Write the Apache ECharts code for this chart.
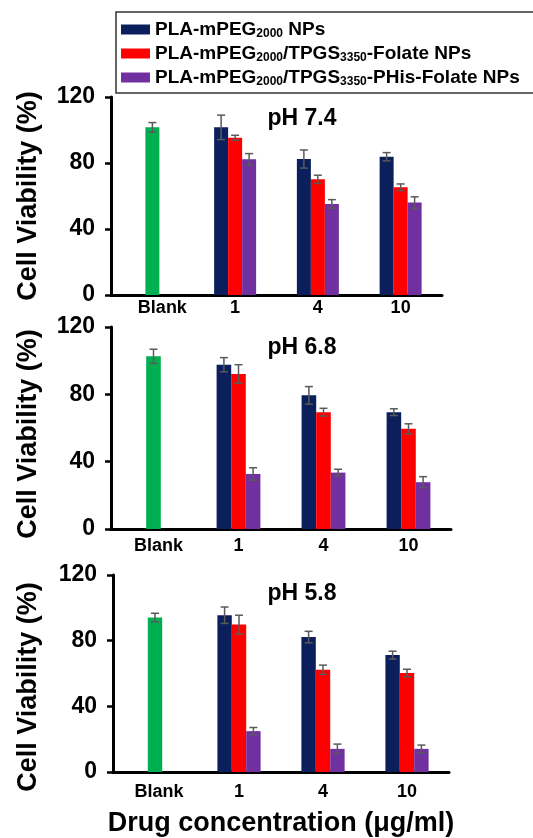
<!DOCTYPE html>
<html>
<head>
<meta charset="utf-8">
<script src="https://cdn.jsdelivr.net/npm/echarts@6/dist/echarts.min.js"></script>
<style>
  html, body { margin: 0; padding: 0; background: #ffffff; }
  #main { width: 533px; height: 838px; }
</style>
</head>
<body>
<div id="main"></div>
<script>
// categories and names
const categories = ["Blank", "1", "4", "10"];
const panelTitles = ["pH 7.4", "pH 6.8", "pH 5.8"];
const seriesNames = [
  "PLA-mPEG2000 NPs",
  "PLA-mPEG2000/TPGS3350-Folate NPs",
  "PLA-mPEG2000/TPGS3350-PHis-Folate NPs"
];
const legendLabels = [
  "PLA-mPEG{sub|2000} NPs",
  "PLA-mPEG{sub|2000}/TPGS{sub|3350}-Folate NPs",
  "PLA-mPEG{sub|2000}/TPGS{sub|3350}-PHis-Folate NPs"
];

// values per panel (pH 7.4, 6.8, 5.8); groups are 1, 4, 10 µg/ml
const blankMean = [101.6, 102.6, 94.1];
const blankErr = [2.9, 4.2, 2.6];
const plaMean = [[101.6, 82.4, 83.8], [97.6, 79.4, 69.4], [95.5, 82.2, 71.2]];
const plaErr = [[7.4, 5.5, 2.5], [4.2, 5.2, 2.0], [5.0, 3.5, 2.4]];
const folateMean = [[95.3, 70.1, 65.3], [92.1, 69.4, 59.5], [89.8, 62.3, 60.3]];
const folateErr = [[1.5, 2.5, 2.0], [5.5, 2.3, 3.0], [5.7, 2.8, 2.3]];
const phisMean = [[82.2, 55.2, 56.0], [32.7, 33.5, 27.8], [24.9, 14.1, 14.1]];
const phisErr = [[3.5, 2.6, 3.5], [3.7, 2.0, 3.3], [2.2, 2.9, 2.3]];

const colors = ["#0b1f5c", "#ff0000", "#7030a0"];
const blankColor = "#00b050";
const font = "Liberation Sans";

// layout
const grids = [
  { left: 111, top: 97, width: 331, height: 198 },
  { left: 111, top: 327, width: 340, height: 202 },
  { left: 113, top: 575, width: 336, height: 201 }
];
const barWidths = [14, 14.6, 14.4];
const titleTops = [102, 331, 577];
const labelMargins = [4, 8, 11];
const blankShift = [10, 5, 4];
const nameShift = [0, 12, 27];

let chart = echarts.init(document.getElementById("main"));

function errRender(offset, barW) {
  return function (params, api) {
    let x = api.value(0);
    let m = api.value(1);
    let e = api.value(2);
    let top = api.coord([x, m + e]);
    let bot = api.coord([x, m - e]);
    let cx = top[0] + offset * barW;
    let st = { stroke: "#5a5a5a", lineWidth: 1.5 };
    return {
      type: "group",
      children: [
        { type: "line", shape: { x1: cx, y1: top[1], x2: cx, y2: bot[1] }, style: st },
        { type: "line", shape: { x1: cx - 4, y1: top[1], x2: cx + 4, y2: top[1] }, style: st },
        { type: "line", shape: { x1: cx - 4, y1: bot[1], x2: cx + 4, y2: bot[1] }, style: st }
      ]
    };
  };
}

let xAxis = [];
let yAxis = [];
let series = [];

grids.forEach(function (g, p) {
  let barW = barWidths[p];
  xAxis.push({
    type: "category",
    gridIndex: p,
    data: categories,
    axisLine: { lineStyle: { color: "#000", width: 3 } },
    axisTick: { show: false },
    axisLabel: {
      interval: 0,
      hideOverlap: false,
      color: "#000",
      fontFamily: font,
      fontWeight: "bold",
      fontSize: 18,
      margin: labelMargins[p],
      formatter: function (v) {
        return v === "Blank" ? "{sh|Blank}" : v;
      },
      rich: {
        sh: {
          color: "#000",
          fontFamily: font,
          fontWeight: "bold",
          fontSize: 18,
          padding: [0, 0, 0, 2 * blankShift[p]]
        }
      }
    },
    name: p === 2 ? "Drug concentration (μg/ml)" : "",
    nameLocation: "middle",
    nameGap: 38,
    nameTextStyle: { color: "#000", fontFamily: font, fontWeight: "bold", fontSize: 27 }
  });
  xAxis.push({
    type: "category",
    gridIndex: p,
    data: categories,
    show: false
  });
  yAxis.push({
    type: "value",
    gridIndex: p,
    min: 0,
    max: 120,
    interval: 40,
    splitLine: { show: false },
    axisLine: { show: true, lineStyle: { color: "#000", width: 3 } },
    axisTick: { show: true, length: 6, lineStyle: { color: "#000", width: 2.5 } },
    axisLabel: {
      color: "#000",
      fontFamily: font,
      fontWeight: "bold",
      fontSize: 23,
      margin: 16
    },
    name: "Cell Viability (%)",
    nameLocation: "middle",
    nameRotate: 90,
    nameGap: 69 + (g.left - 111),
    nameTextStyle: {
      color: "#000",
      fontFamily: font,
      fontWeight: "bold",
      fontSize: 27,
      padding: [0, nameShift[p], 0, 0]
    }
  });

  let means = [plaMean[p], folateMean[p], phisMean[p]];
  let errs = [plaErr[p], folateErr[p], phisErr[p]];
  means.forEach(function (vals, s) {
    series.push({
      name: seriesNames[s],
      type: "bar",
      xAxisIndex: 2 * p,
      yAxisIndex: p,
      barWidth: barW,
      barGap: "0%",
      itemStyle: { color: colors[s] },
      data: ["-"].concat(vals)
    });
  });
  means.forEach(function (vals, s) {
    series.push({
      name: seriesNames[s],
      type: "custom",
      xAxisIndex: 2 * p,
      yAxisIndex: p,
      z: 5,
      renderItem: errRender(s - 1, barW),
      data: vals.map(function (v, i) { return [i + 1, v, errs[s][i]]; })
    });
  });
  series.push({
    name: "Blank",
    type: "bar",
    xAxisIndex: 2 * p + 1,
    yAxisIndex: p,
    barWidth: barW,
    itemStyle: { color: blankColor },
    data: [blankMean[p], "-", "-", "-"]
  });
  series.push({
    name: "Blank",
    type: "custom",
    xAxisIndex: 2 * p + 1,
    yAxisIndex: p,
    z: 5,
    renderItem: errRender(0, barW),
    data: [[0, blankMean[p], blankErr[p]]]
  });
});

chart.setOption({
  animation: false,
  title: panelTitles.map(function (t, i) {
    return {
      text: t,
      left: 297,
      top: titleTops[i],
      textAlign: "center",
      textStyle: { color: "#000", fontFamily: font, fontWeight: "bold", fontSize: 23 }
    };
  }),
  legend: {
    data: seriesNames,
    orient: "vertical",
    left: 116,
    top: 13,
    itemWidth: 29,
    itemHeight: 10,
    itemGap: 1,
    icon: "rect",
    formatter: function (name) {
      return legendLabels[seriesNames.indexOf(name)];
    },
    textStyle: {
      color: "#000",
      fontFamily: font,
      fontWeight: "bold",
      fontSize: 19,
      lineHeight: 23,
      rich: {
        sub: { fontFamily: font, fontWeight: "bold", fontSize: 12, padding: [8, 0, 0, 0] }
      }
    }
  },
  graphic: [
    {
      type: "rect",
      shape: { x: 116, y: 12, width: 500, height: 81 },
      style: { fill: "none", stroke: "#333", lineWidth: 1.5 }
    }
  ],
  grid: grids,
  xAxis: xAxis,
  yAxis: yAxis,
  series: series
});
</script>
</body>
</html>
